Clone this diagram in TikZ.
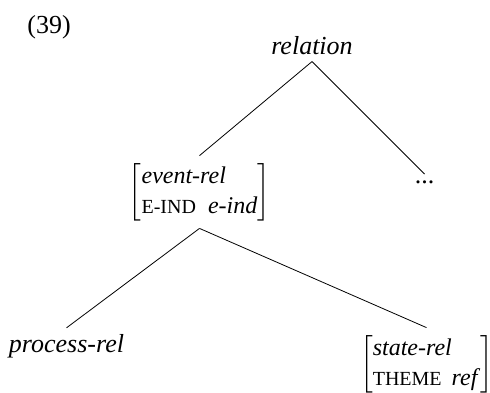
\documentclass[tikz,border=0pt]{standalone}
\usepackage{fontspec}
\setmainfont{Liberation Serif}
\usepackage{amsmath}
\usepackage{tikz}

\newcommand{\feat}[1]{{\fontsize{10}{12}\selectfont #1}}
\newcommand{\avm}[1]{$\left[\begin{tabular}{@{}l@{}}#1\end{tabular}\right]$}

\begin{document}
\begin{tikzpicture}[
    every node/.style={inner sep=3pt,font=\fontsize{13}{15}\selectfont},
    avmnode/.style={inner sep=3pt,font=\fontsize{12}{15}\selectfont},
    level 1/.style={level distance=73pt,sibling distance=112.5pt},
    level 2/.style={level distance=77pt,sibling distance=183pt},
    parent anchor=south,child anchor=north]
  \useasboundingbox (0,0) rectangle (245pt,-196pt);
  \node[anchor=base west](num) at (10.5pt,-16.5pt){(39)};
  \node(rel) at (156pt,-23pt){\textit{relation}}
    child{
      node[avmnode](event){\avm{\textit{event-rel}\\ \feat{E-IND}\hspace{6pt}\textit{e-ind}}}
      child{node[xshift=25pt](process){\textit{process-rel}}}
      child{node[avmnode,xshift=22pt,yshift=-9pt](state){\avm{\textit{state-rel}\\ \feat{THEME}\hspace{5pt}\textit{ref}}}}
    }
    child{
      node[yshift=5pt](more){...}
    };
\end{tikzpicture}
\end{document}
